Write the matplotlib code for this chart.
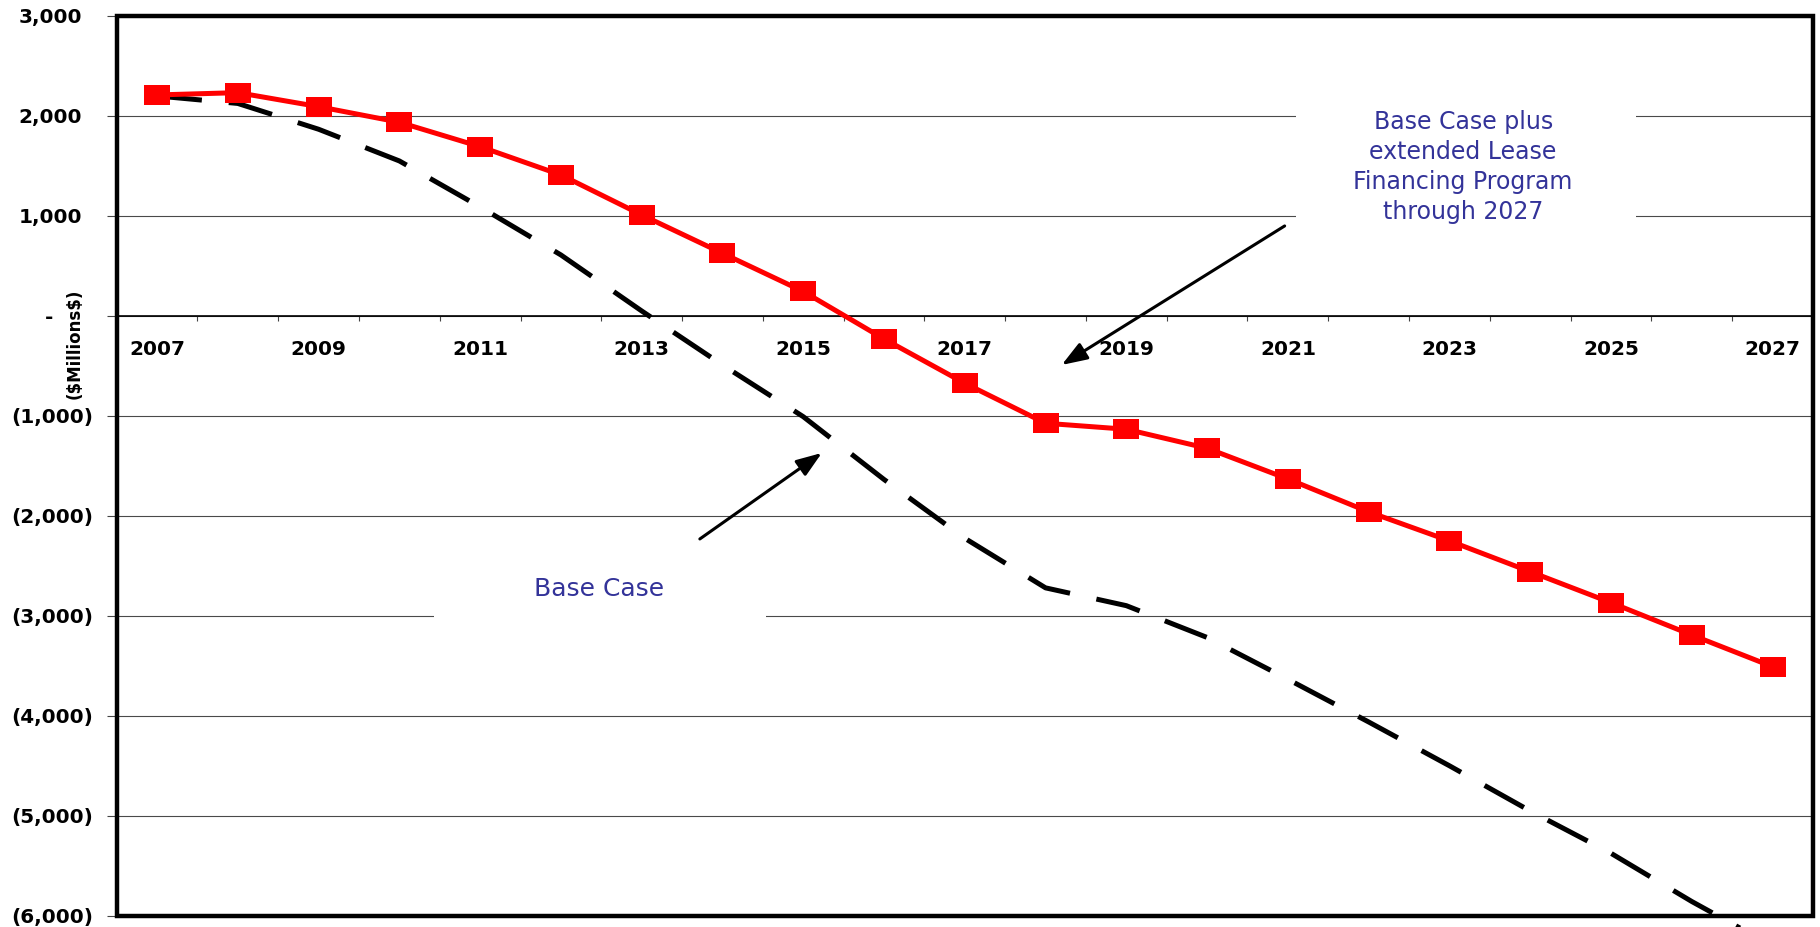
import matplotlib

matplotlib.use("Agg")
import matplotlib.pyplot as plt
from matplotlib.patches import Rectangle
from matplotlib.ticker import FuncFormatter, NullFormatter
from matplotlib.transforms import ScaledTranslation

# --------------------------------------------------------------------------- #
#  DATA  ($ millions)                            #
# --------------------------------------------------------------------------- #
years = list(range(2007, 2028))
base_case = [2200, 2125, 1867, 1550, 1090, 610, 50, -490, -1007, -1635,
             -2223, -2719, -2897, -3215, -3633, -4060, -4498, -4950, -5373,
             -5855, -6300]
lease_case = [2210, 2233, 2093, 1937, 1693, 1410, 1010, 627, 245, -230,
              -673, -1073, -1133, -1323, -1630, -1959, -2249, -2557, -2867,
              -3190, -3507]
label_years = years[::2]
y_ticks = list(range(-6000, 3001, 1000))

lease_text = "Base Case plus\nextended Lease\nFinancing Program\nthrough 2027"
base_text = "Base Case"

TEXT_BLUE = "#333399"
DPI = 100


def acct(v, pos=None):
    """Excel accounting style: 1,000 / (1,000) / -"""
    if v > 0:
        return f"{v:,.0f}"
    if v < 0:
        return f"({-v:,.0f})"
    return "-"


def main():
    fig = plt.figure(figsize=(18.2, 9.27), dpi=DPI)
    ax = fig.add_axes([0.0641, 0.0119, 0.9320, 0.9709])

    ax.set_xlim(years[0] - 0.5, years[-1] + 0.5)
    ax.set_ylim(y_ticks[0], y_ticks[-1])

    # white boxes behind the two labels (they knock out the gridlines)
    ax.add_patch(Rectangle((2021.10, 500), 4.21, 1800, facecolor="white",
                           edgecolor="none", zorder=2))
    ax.add_patch(Rectangle((2010.43, -3400), 4.11, 850, facecolor="white",
                           edgecolor="none", zorder=2))

    # series
    ax.plot(years, base_case, color="black", lw=3.6, dashes=(9.0, 5.4),
            dash_capstyle="butt", clip_on=False, zorder=3)
    rect = [(-0.5, -0.37), (0.5, -0.37), (0.5, 0.37), (-0.5, 0.37), (-0.5, -0.37)]
    ax.plot(years, lease_case, color="#FF0000", lw=3.6, marker=rect,
            markersize=18.7, markeredgewidth=0, markerfacecolor="#FF0000",
            zorder=4)

    # y axis
    ax.set_yticks(y_ticks)
    ax.yaxis.set_major_formatter(FuncFormatter(acct))
    ax.tick_params(axis="y", direction="out", length=7.2, width=0.8,
                   color="#444444", pad=10, labelsize=14.4)
    for lab in ax.get_yticklabels():
        lab.set_fontweight("bold")
    ax.yaxis.grid(True, color="#4a4a4a", lw=0.8)
    ax.set_ylabel(r"(\$Millions\$)", fontsize=12, fontweight="bold", va="center")
    ax.yaxis.set_label_coords(-0.0246, 0.636)

    # x axis sits on zero; ticks between categories, labels every other year
    ax.spines["bottom"].set_position(("data", 0))
    ax.spines["bottom"].set_linewidth(1.2)
    for side in ("left", "right", "top"):
        ax.spines[side].set_visible(False)
    ax.set_xticks([y - 0.5 for y in years] + [years[-1] + 0.5])
    ax.xaxis.set_major_formatter(NullFormatter())
    ax.set_xticks(label_years, minor=True)
    ax.set_xticklabels([str(y) for y in label_years], minor=True,
                       fontsize=14.4, fontweight="bold")
    ax.tick_params(axis="x", which="major", direction="out", length=3.6,
                   width=0.8, color="#444444")
    ax.tick_params(axis="x", which="minor", length=0, pad=17.5)

    # heavy frame
    ax.add_patch(Rectangle((0, 0), 1, 1, transform=ax.transAxes, fill=False,
                           edgecolor="black", lw=3.2, clip_on=False, zorder=6))

    # labels + arrows
    ax.text(2023.17, 1490, lease_text, ha="center", va="center", fontsize=17,
            color=TEXT_BLUE, linespacing=1.32, zorder=5)
    ax.text(2012.47, -2727, base_text, ha="center", va="center", fontsize=18,
            color=TEXT_BLUE, zorder=5)
    arrow = dict(arrowstyle="-|>,head_length=1.1,head_width=0.4",
                 mutation_scale=14, lw=2.2, color="black", shrinkA=0, shrinkB=0)
    ax.annotate("", xy=(2018.2, -490), xytext=(2020.96, 900), arrowprops=arrow,
                zorder=5)
    ax.annotate("", xy=(2015.23, -1370), xytext=(2013.72, -2230),
                arrowprops=arrow, zorder=5)

    # accounting alignment: positives and the dash sit left of the ")" column
    fig.canvas.draw()
    for tick in ax.yaxis.get_major_ticks():
        v = tick.get_loc()
        shift = 0 if v < 0 else (-40 if v == 0 else -11)
        if shift:
            off = ScaledTranslation(shift / DPI, 0, fig.dpi_scale_trans)
            tick.label1.set_transform(tick.label1.get_transform() + off)

    fig.savefig("out.png", dpi=DPI, facecolor="white")


if __name__ == "__main__":
    main()
